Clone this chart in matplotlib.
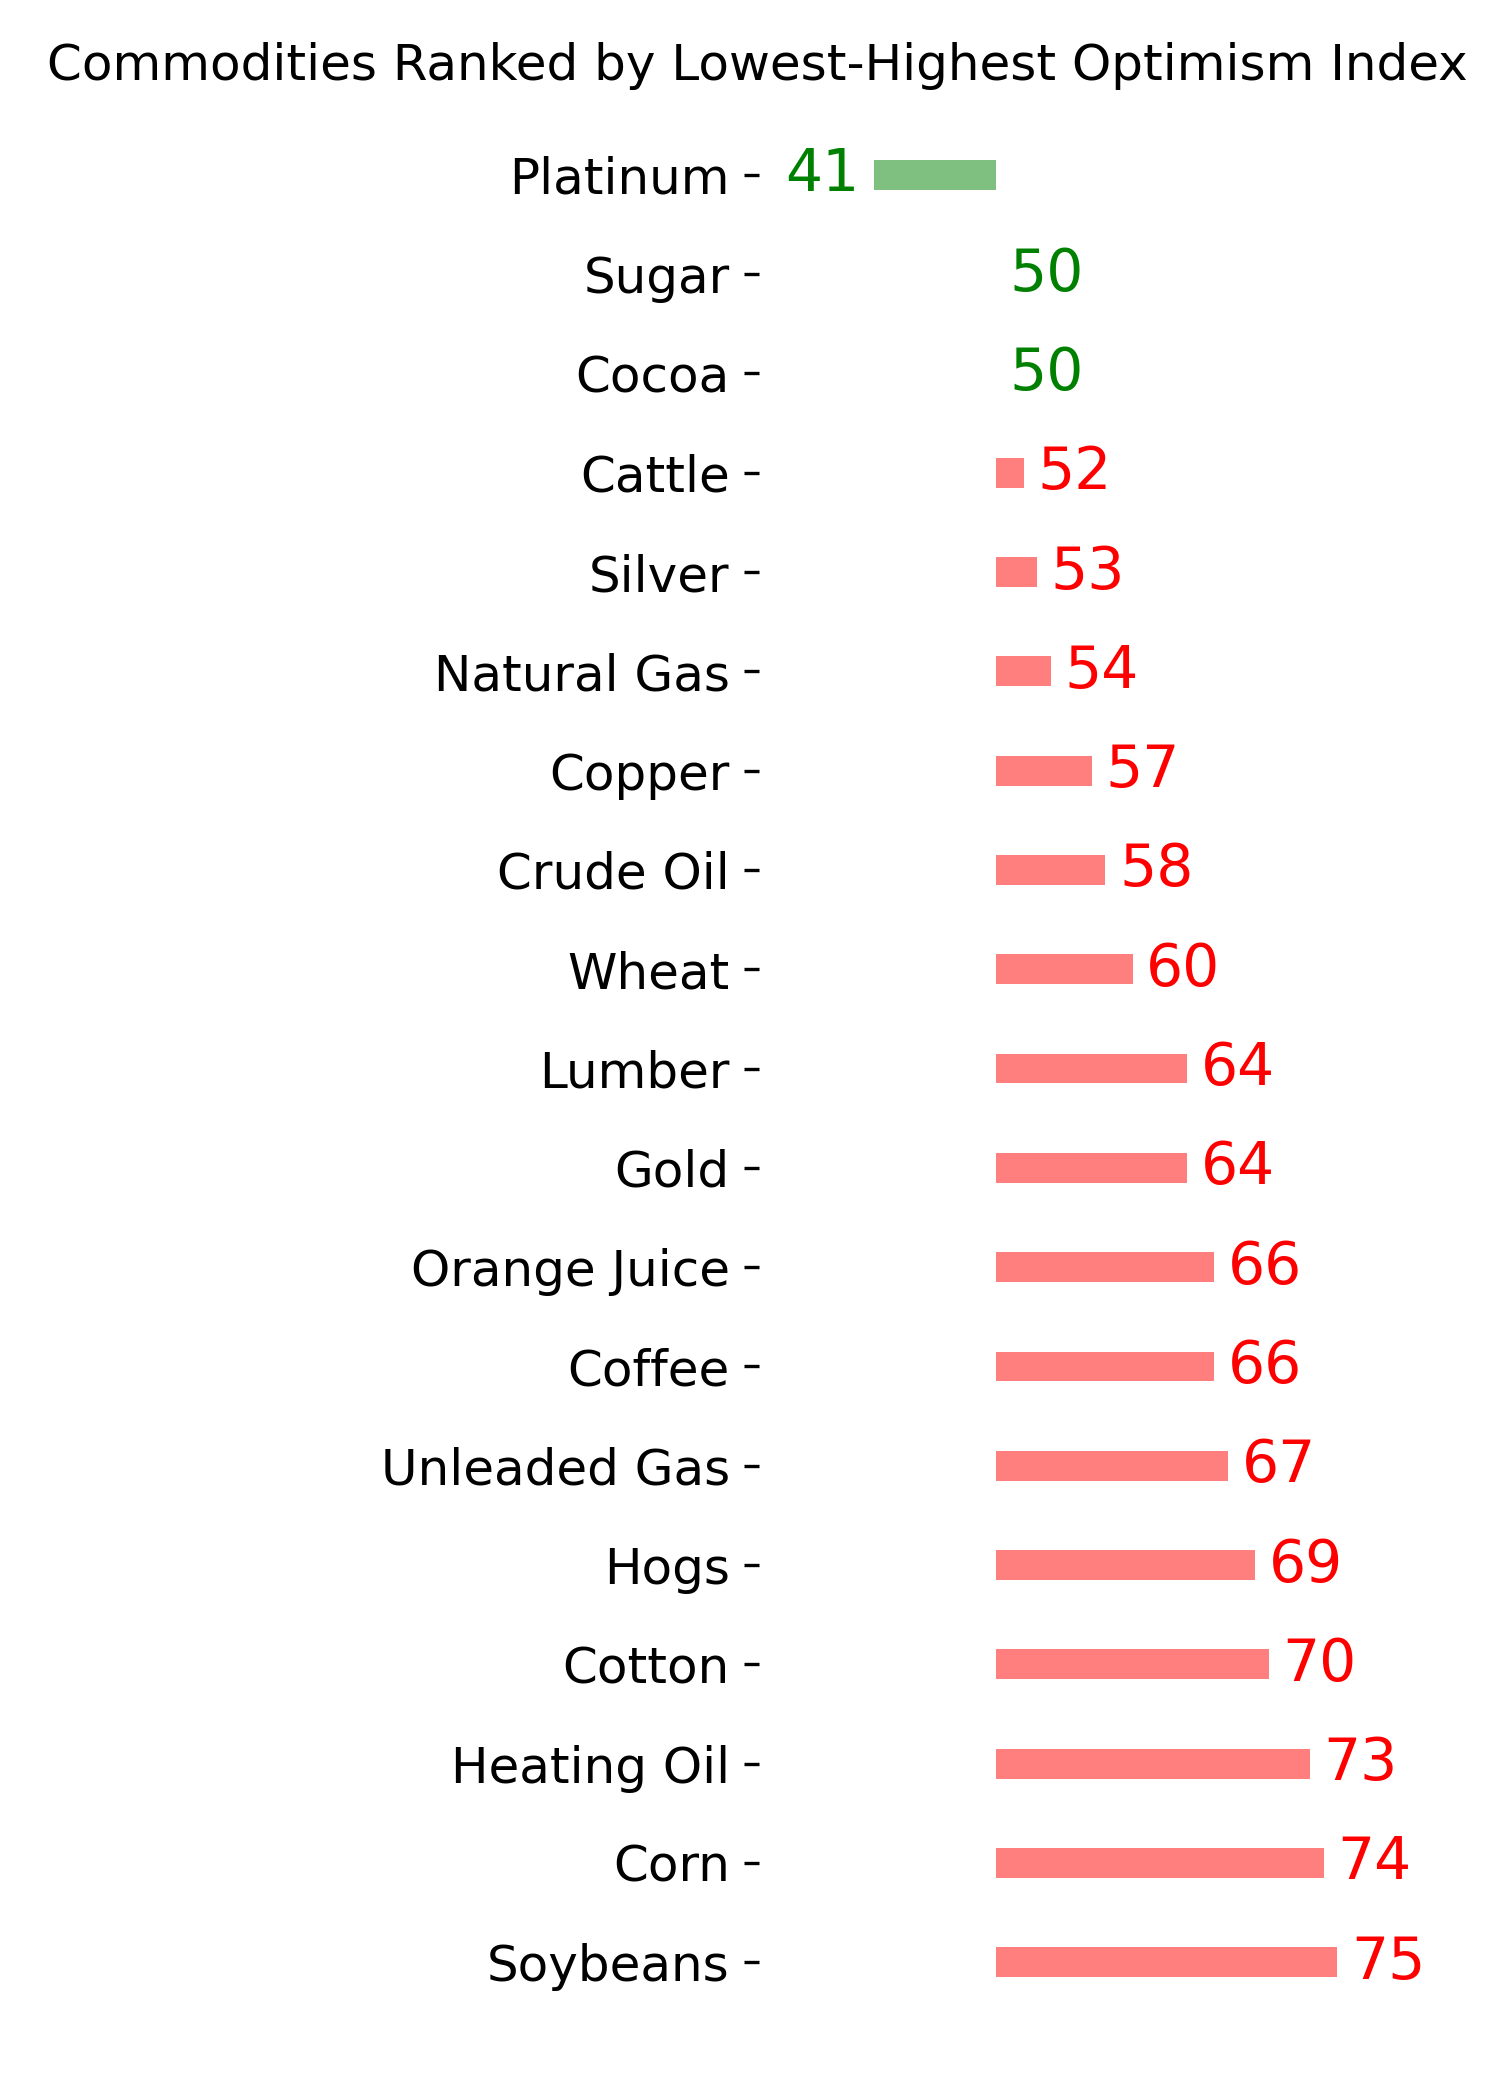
import matplotlib
matplotlib.use("Agg")
import matplotlib.pyplot as plt

commodities = ["Platinum", "Sugar", "Cocoa", "Cattle", "Silver", "Natural Gas",
               "Copper", "Crude Oil", "Wheat", "Lumber", "Gold", "Orange Juice",
               "Coffee", "Unleaded Gas", "Hogs", "Cotton", "Heating Oil", "Corn",
               "Soybeans"]
index_values = [41, 50, 50, 52, 53, 54, 57, 58, 60, 64, 64, 66, 66, 67, 69, 70, 73, 74, 75]
neutral = 50

fig = plt.figure(figsize=(5, 7), dpi=300)
ax = fig.add_axes([0.506, 0.05, 0.45, 0.88])

pos = list(range(len(commodities)))
for i, v in zip(pos, index_values):
    c = "green" if v <= neutral else "red"
    ax.barh(i, v - neutral, left=neutral, height=0.3, color=c, alpha=0.5)
    if v < neutral:
        ax.text(v - 1, i, str(v), color=c, ha="right", va="center", fontsize=14)
    else:
        ax.text(v + 1, i, str(v), color=c, ha="left", va="center", fontsize=14)

ax.set_yticks(pos)
ax.set_yticklabels(commodities, fontsize=12)
ax.set_xticks([])
ax.set_xlim(32.6, 82.1)
ax.set_ylim(18.33, -0.28)
for s in ax.spines.values():
    s.set_visible(False)

fig.text(0.505, 0.98, "Commodities Ranked by Lowest-Highest Optimism Index",
         ha="center", va="top", fontsize=12)

fig.savefig("out.png", dpi=300)
